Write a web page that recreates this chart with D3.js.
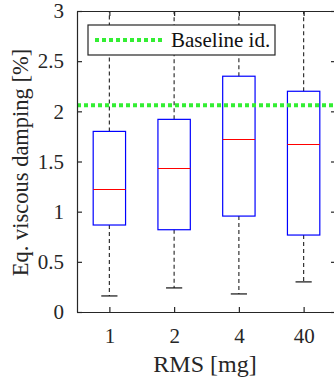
<!DOCTYPE html>
<html>
<head>
<meta charset="utf-8">
<script src="https://cdn.jsdelivr.net/npm/d3@7"></script>
<style>
  body { margin: 0; background: #fff; }
  svg { display: block; font-family: "Liberation Serif", "Times New Roman", serif; }
</style>
</head>
<body>
<svg id="graph" width="334" height="383"></svg>
<script>
// box plot values
var categories = ["1", "2", "4", "40"]
var lowerWhisker = [0.16, 0.24, 0.18, 0.30]
var q1 = [0.867, 0.82, 0.956, 0.767]
var median = [1.225, 1.44, 1.72, 1.67]
var q3 = [1.80, 1.92, 2.35, 2.20]
var upperWhisker = [3.0, 3.3, 3.5, 3.2]
var baseline = 2.06
var yTicks = [0, 0.5, 1, 1.5, 2, 2.5, 3]

var margin = { top: 11, right: -2, bottom: 71, left: 77 }
var W = 334, H = 383
var width = W - margin.left - margin.right
var height = H - margin.top - margin.bottom

var svg = d3.select("#graph")
var g = svg.append("g").attr("transform", "translate(" + margin.left + "," + margin.top + ")")

var xScale = d3.scalePoint().domain(categories).range([0, width]).padding(0.5)
var yScale = d3.scaleLinear().domain([0, 3]).range([height, 0])

g.append("clipPath").attr("id", "clip")
  .append("rect").attr("width", width).attr("height", height)

var boxes = categories.map((c, i) => ({
  c: c, lo: lowerWhisker[i], q1: q1[i], med: median[i], q3: q3[i], hi: upperWhisker[i]
}))
var bw = xScale.step() / 2

var plot = g.append("g").attr("clip-path", "url(#clip)")

// whiskers
plot.selectAll(".whisk-up").data(boxes).enter().append("line")
  .attr("x1", d => xScale(d.c)).attr("x2", d => xScale(d.c))
  .attr("y1", d => yScale(d.q3)).attr("y2", d => yScale(d.hi))
  .attr("stroke", "#333").attr("stroke-width", 1.2).attr("stroke-dasharray", "4,3")
plot.selectAll(".whisk-lo").data(boxes).enter().append("line")
  .attr("x1", d => xScale(d.c)).attr("x2", d => xScale(d.c))
  .attr("y1", d => yScale(d.q1)).attr("y2", d => yScale(d.lo))
  .attr("stroke", "#333").attr("stroke-width", 1.2).attr("stroke-dasharray", "4,3")
plot.selectAll(".cap").data(boxes.flatMap(d => [d.lo, d.hi].map(v => ({ c: d.c, v: v }))))
  .enter().append("line")
  .attr("x1", d => xScale(d.c) - bw / 4).attr("x2", d => xScale(d.c) + bw / 4)
  .attr("y1", d => yScale(d.v)).attr("y2", d => yScale(d.v))
  .attr("stroke", "#111").attr("stroke-width", 1.2)

// boxes
plot.selectAll(".box").data(boxes).enter().append("rect")
  .attr("x", d => xScale(d.c) - bw / 2).attr("width", bw)
  .attr("y", d => yScale(d.q3)).attr("height", d => yScale(d.q1) - yScale(d.q3))
  .attr("fill", "none").attr("stroke", "#0000ff").attr("stroke-width", 1.2)
plot.selectAll(".med").data(boxes).enter().append("line")
  .attr("x1", d => xScale(d.c) - bw / 2).attr("x2", d => xScale(d.c) + bw / 2)
  .attr("y1", d => Math.round(yScale(d.med)) + 0.5).attr("y2", d => Math.round(yScale(d.med)) + 0.5)
  .attr("stroke", "#ff0000").attr("stroke-width", 1.2)

// baseline
plot.append("line")
  .attr("x1", 0).attr("x2", width)
  .attr("y1", yScale(baseline)).attr("y2", yScale(baseline))
  .attr("stroke", "#33ee33").attr("stroke-width", 4).attr("stroke-dasharray", "4,3")

// axes (MATLAB style, ticks inward, full box)
var axisColor = "#262626"
var axLeft = g.append("g").call(d3.axisLeft(yScale).tickValues(yTicks).tickSizeInner(-5).tickSizeOuter(0).tickPadding(13).tickFormat(d3.format("")))
var axRight = g.append("g").attr("transform", "translate(" + width + ",0)")
  .call(d3.axisRight(yScale).tickValues(yTicks).tickSizeInner(-5).tickSizeOuter(0).tickFormat(""))
var axBottom = g.append("g").attr("transform", "translate(0," + height + ")")
  .call(d3.axisBottom(xScale).tickSizeInner(-5).tickSizeOuter(0).tickPadding(12))
var axTop = g.append("g").call(d3.axisTop(xScale).tickSizeInner(-5).tickSizeOuter(0).tickFormat(""))

;[axLeft, axRight, axBottom, axTop].forEach(a => {
  a.selectAll("path, line").attr("stroke", axisColor).attr("stroke-width", 1.2)
  a.selectAll("text").attr("fill", axisColor).attr("font-size", 21)
    .attr("font-family", "Liberation Serif, Times New Roman, serif")
})
axBottom.selectAll("text").attr("dy", "0.9em")

// axis labels
svg.append("text")
  .attr("x", 205).attr("y", 372)
  .attr("text-anchor", "middle").attr("font-size", 24).attr("fill", axisColor)
  .text("RMS [mg]")
svg.append("text")
  .attr("transform", "translate(28," + (margin.top + height / 2 + 1) + ") rotate(-90)")
  .attr("text-anchor", "middle").attr("font-size", 22.5).attr("fill", axisColor)
  .text("Eq. viscous damping [%]")

// legend
var lg = svg.append("g").attr("transform", "translate(88,25)")
lg.append("rect").attr("width", 187).attr("height", 30)
  .attr("fill", "#fff").attr("stroke", axisColor).attr("stroke-width", 1.2)
lg.append("line").attr("x1", 7).attr("x2", 77).attr("y1", 15).attr("y2", 15)
  .attr("stroke", "#33ee33").attr("stroke-width", 4).attr("stroke-dasharray", "4,3")
lg.append("text").attr("x", 83).attr("y", 22).attr("font-size", 21).attr("fill", "#111")
  .text("Baseline id.")
</script>
</body>
</html>
